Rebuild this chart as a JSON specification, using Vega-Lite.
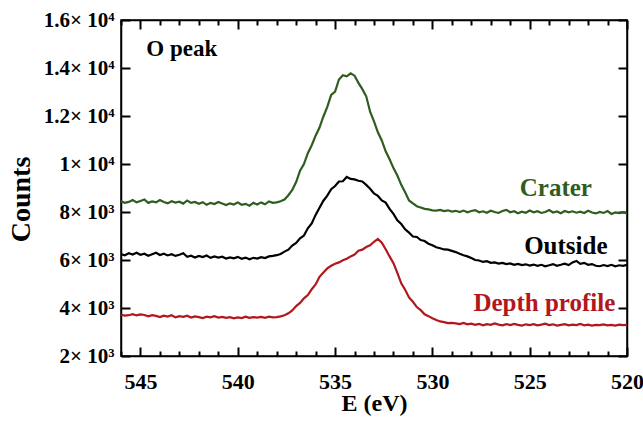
{
"$schema":"https://vega.github.io/schema/vega-lite/v6.json",
"width":506,"height":336,
"autosize":{"type":"none"},
"padding":{"left":121,"top":20,"right":16,"bottom":66},
"config":{"font":"Liberation Serif","view":{"stroke":"black","strokeWidth":1.5},
 "axis":{"grid":false,"domainColor":"black","domainWidth":1.5,"tickColor":"black","tickWidth":2,"labelColor":"black","labelFont":"Liberation Serif","labelFontWeight":"bold","titleFont":"Liberation Serif","titleFontWeight":"bold","titleColor":"black"}},
"datasets":{
"spec":[
{"E":546.0,"Crater":8450,"Outside":6250,"Depth profile":3720},
{"E":545.8,"Crater":8380,"Outside":6200,"Depth profile":3680},
{"E":545.6,"Crater":8420,"Outside":6280,"Depth profile":3700},
{"E":545.4,"Crater":8500,"Outside":6230,"Depth profile":3740},
{"E":545.2,"Crater":8400,"Outside":6300,"Depth profile":3690},
{"E":545.0,"Crater":8460,"Outside":6220,"Depth profile":3730},
{"E":544.8,"Crater":8520,"Outside":6260,"Depth profile":3710},
{"E":544.6,"Crater":8380,"Outside":6180,"Depth profile":3650},
{"E":544.4,"Crater":8440,"Outside":6240,"Depth profile":3700},
{"E":544.2,"Crater":8400,"Outside":6300,"Depth profile":3670},
{"E":544.0,"Crater":8500,"Outside":6210,"Depth profile":3620},
{"E":543.8,"Crater":8420,"Outside":6260,"Depth profile":3680},
{"E":543.6,"Crater":8360,"Outside":6190,"Depth profile":3640},
{"E":543.4,"Crater":8450,"Outside":6240,"Depth profile":3700},
{"E":543.2,"Crater":8390,"Outside":6170,"Depth profile":3610},
{"E":543.0,"Crater":8430,"Outside":6220,"Depth profile":3660},
{"E":542.8,"Crater":8350,"Outside":6280,"Depth profile":3630},
{"E":542.6,"Crater":8480,"Outside":6130,"Depth profile":3680},
{"E":542.4,"Crater":8380,"Outside":6180,"Depth profile":3600},
{"E":542.2,"Crater":8420,"Outside":6100,"Depth profile":3650},
{"E":542.0,"Crater":8340,"Outside":6170,"Depth profile":3620},
{"E":541.8,"Crater":8410,"Outside":6120,"Depth profile":3580},
{"E":541.6,"Crater":8300,"Outside":6190,"Depth profile":3640},
{"E":541.4,"Crater":8380,"Outside":6090,"Depth profile":3610},
{"E":541.2,"Crater":8330,"Outside":6150,"Depth profile":3660},
{"E":541.0,"Crater":8420,"Outside":6100,"Depth profile":3600},
{"E":540.8,"Crater":8350,"Outside":6140,"Depth profile":3630},
{"E":540.6,"Crater":8290,"Outside":6060,"Depth profile":3590},
{"E":540.4,"Crater":8360,"Outside":6110,"Depth profile":3620},
{"E":540.2,"Crater":8310,"Outside":6070,"Depth profile":3570},
{"E":540.0,"Crater":8400,"Outside":6130,"Depth profile":3610},
{"E":539.8,"Crater":8300,"Outside":6050,"Depth profile":3580},
{"E":539.6,"Crater":8340,"Outside":6100,"Depth profile":3640},
{"E":539.4,"Crater":8260,"Outside":6030,"Depth profile":3590},
{"E":539.2,"Crater":8380,"Outside":6090,"Depth profile":3620},
{"E":539.0,"Crater":8310,"Outside":6060,"Depth profile":3600},
{"E":538.8,"Crater":8400,"Outside":6120,"Depth profile":3630},
{"E":538.6,"Crater":8320,"Outside":6080,"Depth profile":3590},
{"E":538.4,"Crater":8440,"Outside":6150,"Depth profile":3640},
{"E":538.2,"Crater":8380,"Outside":6170,"Depth profile":3610},
{"E":538.0,"Crater":8400,"Outside":6200,"Depth profile":3620},
{"E":537.8,"Crater":8450,"Outside":6250,"Depth profile":3650},
{"E":537.6,"Crater":8520,"Outside":6350,"Depth profile":3700},
{"E":537.4,"Crater":8700,"Outside":6430,"Depth profile":3780},
{"E":537.2,"Crater":8920,"Outside":6600,"Depth profile":3900},
{"E":537.0,"Crater":9250,"Outside":6710,"Depth profile":4080},
{"E":536.8,"Crater":9720,"Outside":6900,"Depth profile":4210},
{"E":536.6,"Crater":10000,"Outside":7020,"Depth profile":4400},
{"E":536.4,"Crater":10450,"Outside":7320,"Depth profile":4540},
{"E":536.2,"Crater":10780,"Outside":7520,"Depth profile":4780},
{"E":536.0,"Crater":11180,"Outside":7880,"Depth profile":4980},
{"E":535.8,"Crater":11520,"Outside":8180,"Depth profile":5300},
{"E":535.6,"Crater":11980,"Outside":8470,"Depth profile":5480},
{"E":535.4,"Crater":12380,"Outside":8680,"Depth profile":5650},
{"E":535.2,"Crater":12880,"Outside":8950,"Depth profile":5760},
{"E":535.0,"Crater":13020,"Outside":9080,"Depth profile":5840},
{"E":534.8,"Crater":13520,"Outside":9270,"Depth profile":5900},
{"E":534.6,"Crater":13700,"Outside":9280,"Depth profile":5990},
{"E":534.4,"Crater":13650,"Outside":9460,"Depth profile":6050},
{"E":534.2,"Crater":13780,"Outside":9380,"Depth profile":6150},
{"E":534.0,"Crater":13680,"Outside":9360,"Depth profile":6230},
{"E":533.8,"Crater":13380,"Outside":9300,"Depth profile":6390},
{"E":533.6,"Crater":13120,"Outside":9270,"Depth profile":6430},
{"E":533.4,"Crater":12820,"Outside":9130,"Depth profile":6540},
{"E":533.2,"Crater":12180,"Outside":8970,"Depth profile":6610},
{"E":533.0,"Crater":11780,"Outside":8770,"Depth profile":6760},
{"E":532.8,"Crater":11320,"Outside":8670,"Depth profile":6880},
{"E":532.6,"Crater":10980,"Outside":8480,"Depth profile":6720},
{"E":532.4,"Crater":10530,"Outside":8390,"Depth profile":6450},
{"E":532.2,"Crater":10200,"Outside":8130,"Depth profile":6150},
{"E":532.0,"Crater":9830,"Outside":7920,"Depth profile":5870},
{"E":531.8,"Crater":9520,"Outside":7650,"Depth profile":5460},
{"E":531.6,"Crater":9130,"Outside":7500,"Depth profile":5030},
{"E":531.4,"Crater":8820,"Outside":7280,"Depth profile":4760},
{"E":531.2,"Crater":8480,"Outside":7140,"Depth profile":4440},
{"E":531.0,"Crater":8360,"Outside":6980,"Depth profile":4260},
{"E":530.8,"Crater":8240,"Outside":6960,"Depth profile":4040},
{"E":530.6,"Crater":8190,"Outside":6830,"Depth profile":3910},
{"E":530.4,"Crater":8130,"Outside":6790,"Depth profile":3740},
{"E":530.2,"Crater":8110,"Outside":6680,"Depth profile":3660},
{"E":530.0,"Crater":8070,"Outside":6610,"Depth profile":3570},
{"E":529.8,"Crater":8060,"Outside":6530,"Depth profile":3500},
{"E":529.6,"Crater":8090,"Outside":6490,"Depth profile":3440},
{"E":529.4,"Crater":8040,"Outside":6440,"Depth profile":3410},
{"E":529.2,"Crater":8070,"Outside":6430,"Depth profile":3370},
{"E":529.0,"Crater":8020,"Outside":6380,"Depth profile":3380},
{"E":528.8,"Crater":8050,"Outside":6330,"Depth profile":3360},
{"E":528.6,"Crater":8000,"Outside":6260,"Depth profile":3330},
{"E":528.4,"Crater":8060,"Outside":6200,"Depth profile":3380},
{"E":528.2,"Crater":7990,"Outside":6150,"Depth profile":3320},
{"E":528.0,"Crater":8040,"Outside":6080,"Depth profile":3350},
{"E":527.8,"Crater":8080,"Outside":6000,"Depth profile":3300},
{"E":527.6,"Crater":7990,"Outside":5980,"Depth profile":3340},
{"E":527.4,"Crater":8030,"Outside":5920,"Depth profile":3280},
{"E":527.2,"Crater":7970,"Outside":5950,"Depth profile":3330},
{"E":527.0,"Crater":8050,"Outside":5880,"Depth profile":3300},
{"E":526.8,"Crater":8000,"Outside":5900,"Depth profile":3360},
{"E":526.6,"Crater":7960,"Outside":5850,"Depth profile":3310},
{"E":526.4,"Crater":8040,"Outside":5880,"Depth profile":3280},
{"E":526.2,"Crater":8090,"Outside":5830,"Depth profile":3330},
{"E":526.0,"Crater":7990,"Outside":5860,"Depth profile":3290},
{"E":525.8,"Crater":8030,"Outside":5800,"Depth profile":3340},
{"E":525.6,"Crater":7950,"Outside":5840,"Depth profile":3300},
{"E":525.4,"Crater":8010,"Outside":5790,"Depth profile":3270},
{"E":525.2,"Crater":7970,"Outside":5820,"Depth profile":3320},
{"E":525.0,"Crater":8060,"Outside":5770,"Depth profile":3290},
{"E":524.8,"Crater":7990,"Outside":5810,"Depth profile":3330},
{"E":524.6,"Crater":8030,"Outside":5760,"Depth profile":3280},
{"E":524.4,"Crater":7960,"Outside":5800,"Depth profile":3310},
{"E":524.2,"Crater":8000,"Outside":5740,"Depth profile":3350},
{"E":524.0,"Crater":8080,"Outside":5780,"Depth profile":3290},
{"E":523.8,"Crater":7980,"Outside":5830,"Depth profile":3320},
{"E":523.6,"Crater":8020,"Outside":5760,"Depth profile":3270},
{"E":523.4,"Crater":7950,"Outside":5800,"Depth profile":3300},
{"E":523.2,"Crater":8040,"Outside":5850,"Depth profile":3330},
{"E":523.0,"Crater":7990,"Outside":5790,"Depth profile":3280},
{"E":522.8,"Crater":8030,"Outside":5900,"Depth profile":3310},
{"E":522.6,"Crater":7970,"Outside":5960,"Depth profile":3290},
{"E":522.4,"Crater":8010,"Outside":5840,"Depth profile":3340},
{"E":522.2,"Crater":7960,"Outside":5880,"Depth profile":3280},
{"E":522.0,"Crater":8050,"Outside":5800,"Depth profile":3310},
{"E":521.8,"Crater":7980,"Outside":5830,"Depth profile":3270},
{"E":521.6,"Crater":7940,"Outside":5760,"Depth profile":3300},
{"E":521.4,"Crater":8000,"Outside":5740,"Depth profile":3290},
{"E":521.2,"Crater":7960,"Outside":5790,"Depth profile":3320},
{"E":521.0,"Crater":8040,"Outside":5750,"Depth profile":3280},
{"E":520.8,"Crater":7920,"Outside":5800,"Depth profile":3300},
{"E":520.6,"Crater":7980,"Outside":5740,"Depth profile":3270},
{"E":520.4,"Crater":7950,"Outside":5780,"Depth profile":3310},
{"E":520.2,"Crater":7990,"Outside":5760,"Depth profile":3290},
{"E":520.0,"Crater":7940,"Outside":5800,"Depth profile":3300}
],
"labels":[
{"E":521.8,"counts":9000,"series":"Crater"},
{"E":521.0,"counts":6580,"series":"Outside"},
{"E":520.6,"counts":4210,"series":"Depth profile"}
],
"note":[{"E":544.7,"counts":14800,"t":"O peak"}]
},
"layer":[
{"data":{"name":"spec"},
 "transform":[{"fold":["Crater","Outside","Depth profile"],"as":["series","counts"]}],
 "mark":{"type":"line","strokeWidth":2.2,"clip":true},
 "encoding":{
  "x":{"field":"E","type":"quantitative","scale":{"domain":[520,546],"reverse":true,"nice":false,"zero":false},
   "axis":{"orient":"bottom","title":"E (eV)","titleFontSize":24,"titlePadding":-5,"values":[520,521,522,523,524,525,526,527,528,529,530,531,532,533,534,535,536,537,538,539,540,541,542,543,544,545,546],"labelExpr":"datum.value % 5 === 0 ? datum.label : ''","labelFontSize":22,"tickSize":{"condition":{"test":"datum.value % 5 === 0","value":-9},"value":-5},"labelPadding":24,"labelFlush":false,"labelOverlap":false}},
  "y":{"field":"counts","type":"quantitative","scale":{"domain":[2000,16000],"nice":false,"zero":false},
   "axis":{"orient":"left","title":"Counts","titleFontSize":28,"titlePadding":8,"titleY":179,"values":[2000,4000,6000,8000,10000,12000,14000,16000],"labelExpr":"datum.value >= 10000 ? format(datum.value/10000, '') + '× 10⁴' : format(datum.value/1000, '') + '× 10³'","labelFontSize":21,"tickSize":-9,"labelPadding":16,"labelFlush":false,"labelOverlap":false}},
  "color":{"field":"series","type":"nominal","scale":{"domain":["Crater","Outside","Depth profile"],"range":["#2f5d1e","#000000","#b2171c"]},"legend":null}
 }},
{"data":{"name":"labels"},
 "mark":{"type":"text","fontWeight":"bold","fontSize":25,"align":"right","baseline":"middle","font":"Liberation Serif"},
 "encoding":{
  "x":{"field":"E","type":"quantitative","axis":{"orient":"top","title":null,"labels":false,"values":[520,521,522,523,524,525,526,527,528,529,530,531,532,533,534,535,536,537,538,539,540,541,542,543,544,545,546],"tickSize":{"condition":{"test":"datum.value % 5 === 0","value":-9},"value":-5}}},
  "y":{"field":"counts","type":"quantitative","axis":{"orient":"right","title":null,"labels":false,"values":[2000,4000,6000,8000,10000,12000,14000,16000],"tickSize":-9}},
  "text":{"field":"series"},
  "color":{"field":"series","type":"nominal","legend":null}
 }},
{"data":{"name":"note"},
 "mark":{"type":"text","fontWeight":"bold","fontSize":23,"align":"left","baseline":"middle","font":"Liberation Serif","color":"black"},
 "encoding":{
  "x":{"field":"E","type":"quantitative","axis":null},
  "y":{"field":"counts","type":"quantitative","axis":null},
  "text":{"field":"t"}
 }}
],
"resolve":{"axis":{"x":"independent","y":"independent"}}
}
